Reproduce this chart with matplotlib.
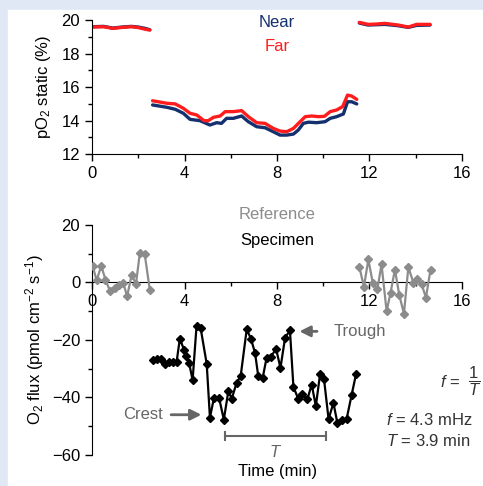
import matplotlib
matplotlib.use("Agg")
import matplotlib.pyplot as plt
from matplotlib.patches import Rectangle
from matplotlib.ticker import MultipleLocator

plt.rcParams['font.family'] = ['Liberation Sans', 'DejaVu Sans']
plt.rcParams['mathtext.fontset'] = 'custom'
plt.rcParams['mathtext.rm'] = 'Liberation Sans'
plt.rcParams['mathtext.it'] = 'Liberation Sans:italic'
plt.rcParams['font.size'] = 12

# top panel: static pO2, three recording segments
near_t = [[0.0, 0.5, 0.9, 1.3, 1.7, 2.0, 2.3, 2.5],
          [2.62, 3.23, 3.6, 3.95, 4.24, 4.67, 5.1, 5.39, 5.6, 5.82, 6.11, 6.47, 6.76, 7.12,
           7.48, 7.84, 8.13, 8.42, 8.71, 8.92, 9.14, 9.36, 9.72, 10.08, 10.3, 10.58, 10.87,
           11.05, 11.23, 11.45],
          [11.56, 11.94, 12.3, 12.66, 13.24, 13.68, 14.04, 14.62]]
near_v = [[19.6, 19.62, 19.52, 19.58, 19.62, 19.58, 19.5, 19.42],
          [14.93, 14.79, 14.67, 14.43, 14.07, 13.99, 13.73, 13.87, 13.83, 14.13, 14.13, 14.27,
           13.93, 13.63, 13.57, 13.33, 13.13, 13.13, 13.19, 13.43, 13.83, 13.9, 13.87, 13.93,
           14.13, 14.23, 14.39, 15.12, 15.12, 14.99],
          [19.82, 19.7, 19.72, 19.74, 19.66, 19.56, 19.68, 19.7]]
far_t = [[0.0, 0.5, 0.9, 1.3, 1.7, 2.0, 2.3, 2.5],
         [2.62, 3.23, 3.6, 3.95, 4.24, 4.53, 4.84, 5.03, 5.25, 5.54, 5.76, 6.11, 6.47, 6.76,
          7.12, 7.48, 7.84, 8.13, 8.42, 8.71, 9.0, 9.22, 9.5, 9.79, 10.05, 10.3, 10.58, 10.84,
          11.05, 11.23, 11.45],
         [11.56, 11.94, 12.3, 12.66, 13.24, 13.68, 14.04, 14.62]]
far_v = [[19.58, 19.6, 19.5, 19.56, 19.6, 19.55, 19.45, 19.4],
         [15.18, 15.03, 14.99, 14.73, 14.43, 14.33, 13.99, 13.99, 14.19, 14.27, 14.53, 14.53,
          14.59, 14.23, 13.87, 13.83, 13.53, 13.37, 13.33, 13.53, 13.93, 14.23, 14.27, 14.23,
          14.25, 14.53, 14.63, 14.83, 15.52, 15.46, 15.26],
         [19.86, 19.74, 19.76, 19.8, 19.7, 19.58, 19.74, 19.74]]

# bottom panel: O2 flux
ref_t = [[0.03, 0.2, 0.4, 0.58, 0.78, 0.98, 1.17, 1.35, 1.52, 1.71, 1.9, 2.07, 2.28, 2.5],
         [11.56, 11.76, 11.95, 12.14, 12.34, 12.52, 12.74, 12.91, 13.1, 13.29, 13.49, 13.68,
          13.9, 14.07, 14.26, 14.44, 14.64]]
ref_v = [[5.7, 0.7, 5.8, 1.0, -3.0, -1.9, -1.0, -0.2, -4.8, 2.6, -0.5, 10.3, 9.8, -2.6],
         [5.4, -1.5, 8.0, -0.1, -2.4, 6.3, -10.0, -3.6, 4.5, -4.5, -10.8, 5.3, -0.1, 1.3,
          -0.7, -5.3, 4.5]]
spec_t = [2.62, 2.8, 2.97, 3.16, 3.34, 3.51, 3.66, 3.8, 3.98, 4.08, 4.2, 4.35, 4.52, 4.7,
          4.96, 5.1, 5.27, 5.5, 5.7, 5.9, 6.04, 6.25, 6.43, 6.69, 6.87, 7.05, 7.19, 7.38,
          7.55, 7.72, 7.96, 8.15, 8.35, 8.56, 8.71, 8.92, 9.1, 9.31, 9.5, 9.68, 9.86, 10.03,
          10.23, 10.44, 10.61, 10.8, 11.01, 11.23, 11.42]
spec_v = [-27, -26.5, -26.5, -28.5, -27.5, -27.8, -27.5, -19.5, -23.5, -25.5, -28, -34,
          -15.2, -16, -28.3, -47, -40.3, -40.3, -47.7, -37.6, -40.5, -35, -32.5, -16.3,
          -19.5, -24.5, -32.6, -33.2, -26.2, -26, -23.1, -29.7, -19.2, -16.7, -36.3, -40.5,
          -38.8, -40.7, -35.5, -43, -32, -33.4, -47.5, -41.9, -48.8, -47.8, -47.5, -39, -31.8]

navy = '#14306e'
red = '#ff1c1c'
grey = '#8c8c8c'
arrow_grey = '#666666'

fig = plt.figure(figsize=(4.83, 4.86), dpi=100, facecolor='#dfe8f4')
fig.patches.append(Rectangle((8 / 483, 0), 1, 1 - 10 / 486, transform=fig.transFigure,
                             color='white', zorder=-1))

ax1 = fig.add_axes([0.1905, 0.6831, 0.766, 0.2757])
ax2 = fig.add_axes([0.1905, 0.0638, 0.766, 0.4733])
for ax in (ax1, ax2):
    ax.set_facecolor('none')
    ax.spines['top'].set_visible(False)
    ax.spines['right'].set_visible(False)
    ax.set_xlim(0, 16)
    ax.xaxis.set_major_locator(MultipleLocator(4))
    ax.xaxis.set_minor_locator(MultipleLocator(2))
    ax.tick_params(which='major', length=5, width=1, direction='out', labelsize=12)
    ax.tick_params(which='minor', length=3, width=1, direction='out')

for t, v in zip(near_t, near_v):
    ax1.plot(t, v, color=navy, lw=2.4, solid_capstyle='round')
for t, v in zip(far_t, far_v):
    ax1.plot(t, v, color=red, lw=2.4, solid_capstyle='round')
ax1.set_ylim(12, 20)
ax1.yaxis.set_major_locator(MultipleLocator(2))
ax1.yaxis.set_minor_locator(MultipleLocator(1))
ax1.set_ylabel('pO$_2$ static (%)', labelpad=6)
ax1.text(8, 19.85, 'Near', color=navy, ha='center', va='center')
ax1.text(8, 18.4, 'Far', color=red, ha='center', va='center')

for t, v in zip(ref_t, ref_v):
    ax2.plot(t, v, color=grey, lw=1.6, marker='D', ms=4.5, zorder=3)
ax2.plot(spec_t, spec_v, color='black', lw=1.6, marker='D', ms=4.5, zorder=3)
ax2.spines['bottom'].set_position(('data', 0))
ax2.set_ylim(-60, 20)
ax2.yaxis.set_major_locator(MultipleLocator(20))
ax2.yaxis.set_minor_locator(MultipleLocator(10))
ax2.set_ylabel('O$_2$ flux (pmol cm$^{-2}$ s$^{-1}$)', labelpad=4)
fig.text(0.574, 0.029, 'Time (min)', ha='center', va='center', fontsize=12)

ax2.text(8, 23.6, 'Reference', color=grey, ha='center', va='center', clip_on=False)
ax2.text(8, 14.6, 'Specimen', color='black', ha='center', va='center')

ax2.annotate('', xy=(8.85, -17), xytext=(9.85, -17),
             arrowprops=dict(arrowstyle='-|>', color=arrow_grey, lw=2, mutation_scale=16))
ax2.text(10.45, -17, 'Trough', color=arrow_grey, ha='left', va='center')
ax2.annotate('', xy=(4.85, -46), xytext=(3.3, -46),
             arrowprops=dict(arrowstyle='-|>', color=arrow_grey, lw=2, mutation_scale=16))
ax2.text(3.05, -46, 'Crest', color=arrow_grey, ha='right', va='center')

ax2.plot([5.75, 10.12], [-53.3, -53.3], color=arrow_grey, lw=1.5, marker='|', ms=7, mew=1.5)
ax2.text(7.95, -59.0, '$T$', color=arrow_grey, ha='center', va='center')

ax2.text(15.05, -34.6, '$f$ =', ha='left', va='center', color='#333333', clip_on=False)
ax2.text(16.25, -34.4, r'$\dfrac{1}{T}$', ha='left', va='center', color='#333333',
         fontsize=12, clip_on=False)
ax2.text(12.72, -47.7, '$f$ = 4.3 mHz', ha='left', va='center', color='#333333',
         clip_on=False)
ax2.text(12.72, -55.0, '$T$ = 3.9 min', ha='left', va='center', color='#333333',
         clip_on=False)

fig.savefig('out.png', dpi=100, facecolor=fig.get_facecolor())
